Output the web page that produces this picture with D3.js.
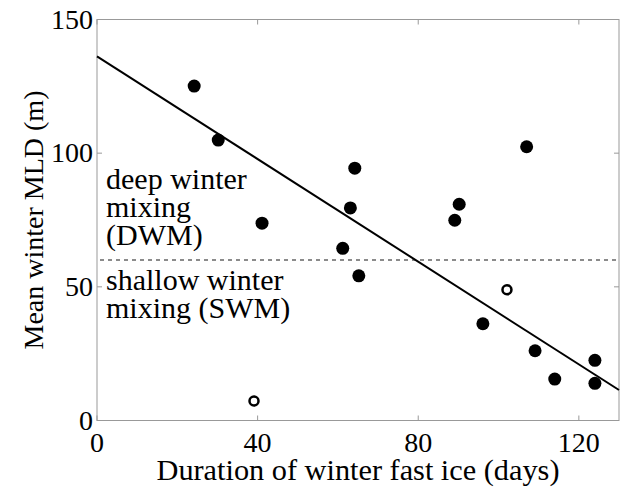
<!DOCTYPE html>
<html>
<head>
<meta charset="utf-8">
<script src="https://cdn.jsdelivr.net/npm/d3@7"></script>
<style>
  body { margin: 0; background: #fff; }
  text { font-family: "Liberation Serif", "Times New Roman", serif; }
</style>
</head>
<body>
<div id="chart"></div>
<script>
// filled markers: duration of fast ice (days) vs mean winter MLD (m)
const fastIceDays = [24.2, 30.2, 41.1, 61.2, 63.1, 64.2, 65.2, 89.1, 90.2, 96.1, 107.0, 109.1, 114.0, 124.0, 124.0];
const mldValues   = [125.1, 104.9, 73.8, 64.4, 79.5, 94.4, 54.1, 74.9, 80.9, 36.2, 102.4, 26.1, 15.5, 22.5, 13.9];
// open markers
const openDays = [39.1, 102.1];
const openMld  = [7.3, 48.9];
// regression line end points
const fitX = [0, 130];
const fitY = [136.2, 11.4];
const threshold = 60;
const xTicks = [0, 40, 80, 120];
const yTicks = [0, 50, 100, 150];

function init() {
    const width = 625;
    const height = 491;
    const margin = {left: 97, right: 6, top: 19.5, bottom: 70.5};

    const svg = d3.select("#chart")
        .append("svg")
        .attr("width", width)
        .attr("height", height);

    const x = d3.scaleLinear().domain([0, 130]).range([margin.left, width - margin.right]);
    const y = d3.scaleLinear().domain([0, 150]).range([height - margin.bottom, margin.top]);

    const axisColor = "#999";

    // box
    svg.append("rect")
        .attr("x", x(0)).attr("y", y(150))
        .attr("width", x(130) - x(0)).attr("height", y(0) - y(150))
        .attr("fill", "none").attr("stroke", axisColor).attr("stroke-width", 1);

    // ticks inside, all four sides
    const tl = 5;
    xTicks.forEach(t => {
        svg.append("line").attr("x1", x(t)).attr("x2", x(t)).attr("y1", y(0)).attr("y2", y(0) - tl).attr("stroke", axisColor);
        svg.append("line").attr("x1", x(t)).attr("x2", x(t)).attr("y1", y(150)).attr("y2", y(150) + tl).attr("stroke", axisColor);
    });
    yTicks.forEach(t => {
        svg.append("line").attr("x1", x(0)).attr("x2", x(0) + tl).attr("y1", y(t)).attr("y2", y(t)).attr("stroke", axisColor);
        svg.append("line").attr("x1", x(130)).attr("x2", x(130) - tl).attr("y1", y(t)).attr("y2", y(t)).attr("stroke", axisColor);
    });

    // tick labels
    svg.selectAll(".xtl")
        .data(xTicks)
        .enter().append("text")
        .attr("x", d => x(d)).attr("y", y(0) + 31)
        .attr("text-anchor", "middle")
        .attr("font-size", 28)
        .text(d => d);

    svg.selectAll(".ytl")
        .data(yTicks)
        .enter().append("text")
        .attr("x", x(0) - 4).attr("y", d => y(d) + 9)
        .attr("text-anchor", "end")
        .attr("font-size", 28)
        .text(d => d);

    // axis titles
    svg.append("text")
        .attr("x", (x(0) + x(130)) / 2).attr("y", 480)
        .attr("text-anchor", "middle")
        .attr("font-size", 30.3)
        .text("Duration of winter fast ice (days)");

    svg.append("text")
        .attr("transform", `translate(43, ${(y(0) + y(150)) / 2}) rotate(-90)`)
        .attr("text-anchor", "middle")
        .attr("font-size", 28)
        .text("Mean winter MLD (m)");

    // threshold dashed line
    svg.append("line")
        .attr("x1", x(0) + 3).attr("x2", x(130) - 3)
        .attr("y1", y(threshold)).attr("y2", y(threshold))
        .attr("stroke", "#666").attr("stroke-width", 1.5)
        .attr("stroke-dasharray", "4,4");

    // annotations
    const annot = [
        {t: "deep winter", yy: 189},
        {t: "mixing", yy: 217},
        {t: "(DWM)", yy: 245},
        {t: "shallow winter", yy: 290},
        {t: "mixing (SWM)", yy: 318}
    ];
    svg.selectAll(".annot")
        .data(annot)
        .enter().append("text")
        .attr("x", 106).attr("y", d => d.yy)
        .attr("font-size", 30)
        .text(d => d.t);

    // regression line
    svg.append("line")
        .attr("x1", x(fitX[0])).attr("y1", y(fitY[0]))
        .attr("x2", x(fitX[1])).attr("y2", y(fitY[1]))
        .attr("stroke", "#000").attr("stroke-width", 2);

    // filled markers
    svg.selectAll(".pt")
        .data(fastIceDays.map((d, i) => [d, mldValues[i]]))
        .enter().append("circle")
        .attr("cx", d => x(d[0])).attr("cy", d => y(d[1]))
        .attr("r", 6.5)
        .attr("fill", "#000");

    // open markers
    svg.selectAll(".opt")
        .data(openDays.map((d, i) => [d, openMld[i]]))
        .enter().append("circle")
        .attr("cx", d => x(d[0])).attr("cy", d => y(d[1]))
        .attr("r", 4.5)
        .attr("fill", "#fff")
        .attr("stroke", "#000").attr("stroke-width", 2.5);
}
window.onload = init;
</script>
</body>
</html>
